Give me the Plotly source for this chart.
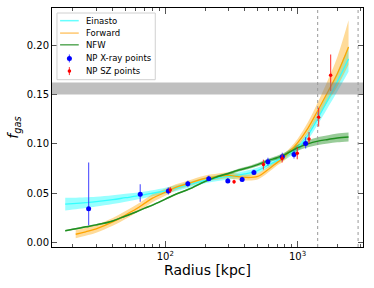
import plotly.graph_objects as go

# ---------------- data ----------------
radius_curve = [17.5, 20, 25, 30, 40, 50, 60, 70, 80, 100, 120, 150, 200, 250, 300,
                350, 400, 500, 600, 700, 800, 1000, 1200, 1400, 1700, 2000, 2430]
einasto = [0.039, 0.0395, 0.0405, 0.0415, 0.0435, 0.0455, 0.047, 0.0485, 0.050, 0.0525,
           0.055, 0.0585, 0.063, 0.0655, 0.067, 0.068, 0.0695, 0.073, 0.0785, 0.083,
           0.087, 0.096, 0.109, 0.124, 0.145, 0.163, 0.186]
einasto_err = [0.0065, 0.006, 0.0055, 0.005, 0.0045, 0.004, 0.0035, 0.0033, 0.003, 0.003,
               0.003, 0.003, 0.003, 0.003, 0.003, 0.003, 0.003, 0.003, 0.003, 0.003,
               0.003, 0.0035, 0.0045, 0.006, 0.008, 0.010, 0.013]
nfw = [0.012, 0.0135, 0.016, 0.018, 0.022, 0.027, 0.031, 0.035, 0.038, 0.044,
       0.049, 0.054, 0.062, 0.067, 0.070, 0.073, 0.075, 0.079, 0.083, 0.086,
       0.089, 0.096, 0.100, 0.1025, 0.1045, 0.106, 0.107]
nfw_err = [0.0008, 0.0008, 0.0008, 0.0008, 0.0008, 0.0008, 0.0008, 0.0008, 0.0008, 0.0008,
           0.0008, 0.0008, 0.001, 0.0012, 0.0013, 0.0014, 0.0015, 0.0017, 0.0018, 0.002,
           0.0022, 0.003, 0.0035, 0.004, 0.0042, 0.0044, 0.0045]

radius_forward = [21, 25, 30, 40, 50, 60, 70, 80, 100, 120, 150, 200, 250, 300,
                  350, 400, 500, 600, 700, 800, 1000, 1200, 1400, 1700, 2000, 2430]
forward = [0.0085, 0.011, 0.014, 0.021, 0.028, 0.034, 0.040, 0.045, 0.051, 0.056,
           0.060, 0.065, 0.067, 0.068, 0.067, 0.066, 0.067, 0.074, 0.081, 0.087,
           0.101, 0.116, 0.132, 0.153, 0.171, 0.198]
forward_err_up = [0.004, 0.004, 0.004, 0.004, 0.004, 0.004, 0.004, 0.004, 0.0035, 0.003,
                  0.003, 0.003, 0.003, 0.003, 0.003, 0.003, 0.003, 0.003, 0.003, 0.0035,
                  0.004, 0.006, 0.008, 0.012, 0.017, 0.027]
forward_err_dn = [0.004, 0.004, 0.004, 0.004, 0.004, 0.004, 0.004, 0.004, 0.0035, 0.003,
                  0.003, 0.003, 0.003, 0.003, 0.003, 0.003, 0.003, 0.003, 0.003, 0.0035,
                  0.004, 0.005, 0.007, 0.010, 0.013, 0.018]

xray_r = [26.3, 64.6, 105.4, 148, 213, 297, 381, 468, 597, 767, 940, 1151]
xray_f = [0.0344, 0.049, 0.0523, 0.0597, 0.0648, 0.0624, 0.0638, 0.0709, 0.082, 0.087, 0.0893, 0.1003]
xray_up = [0.0466, 0.010, 0.0035, 0.003, 0.003, 0.003, 0.003, 0.003, 0.004, 0.004, 0.004, 0.0065]
xray_dn = [0.0168, 0.0075, 0.0035, 0.003, 0.002, 0.002, 0.002, 0.002, 0.004, 0.004, 0.004, 0.005]

sz_r = [109, 331, 552, 765, 995, 1221, 1443, 1779]
sz_f = [0.0533, 0.0617, 0.0790, 0.0852, 0.0905, 0.105, 0.127, 0.1694]
sz_up = [0.003, 0.002, 0.005, 0.004, 0.006, 0.007, 0.0095, 0.021]
sz_dn = [0.003, 0.002, 0.005, 0.004, 0.006, 0.0045, 0.0095, 0.016]

fgas_band = [0.150, 0.162]
vlines = [1420, 2870]

legend_labels = ["Einasto", "Forward", "NFW", "NP X-ray points", "NP SZ points"]

x_tick_vals = [100, 1000]
x_tick_text = ["10<sup>2</sup>", "10<sup>3</sup>"]
x_minor_vals = [20, 30, 40, 50, 60, 70, 80, 90, 200, 300, 400, 500, 600, 700, 800, 900, 2000, 3000]
y_tick_vals = [0.00, 0.05, 0.10, 0.15, 0.20]

# ---------------- figure ----------------
fig = go.Figure()

def band(xs, lo, hi, color):
    fig.add_trace(go.Scatter(x=xs, y=hi, mode="lines", line=dict(width=0, shape="spline"),
                             showlegend=False, hoverinfo="skip"))
    fig.add_trace(go.Scatter(x=xs, y=lo, mode="lines", line=dict(width=0, shape="spline"),
                             fill="tonexty", fillcolor=color, showlegend=False, hoverinfo="skip"))

band(radius_curve, [v - e for v, e in zip(einasto, einasto_err)],
     [v + e for v, e in zip(einasto, einasto_err)], "rgba(0,255,255,0.4)")
band(radius_forward, [v - e for v, e in zip(forward, forward_err_dn)],
     [v + e for v, e in zip(forward, forward_err_up)], "rgba(255,165,0,0.4)")
band(radius_curve, [v - e for v, e in zip(nfw, nfw_err)],
     [v + e for v, e in zip(nfw, nfw_err)], "rgba(0,128,0,0.4)")

fig.add_trace(go.Scatter(x=radius_curve, y=einasto, mode="lines", name=legend_labels[0],
                         line=dict(color="#33ffff", width=1.3, shape="spline"), showlegend=False))
fig.add_trace(go.Scatter(x=radius_forward, y=forward, mode="lines", name=legend_labels[1],
                         line=dict(color="#ffa500", width=1.3, shape="spline"), showlegend=False))
fig.add_trace(go.Scatter(x=radius_curve, y=nfw, mode="lines", name=legend_labels[2],
                         line=dict(color="#1f8f1f", width=1.5, shape="spline"), showlegend=False))

fig.add_trace(go.Scatter(x=xray_r, y=xray_f, mode="markers", name=legend_labels[3],
                         marker=dict(color="#0000ff", size=5), showlegend=False,
                         error_y=dict(type="data", array=xray_up, arrayminus=xray_dn,
                                      color="rgba(40,40,255,0.75)", thickness=1.2, width=0)))
fig.add_trace(go.Scatter(x=sz_r, y=sz_f, mode="markers", name=legend_labels[4],
                         marker=dict(color="#ff0000", size=3.5), showlegend=False,
                         error_y=dict(type="data", array=sz_up, arrayminus=sz_dn,
                                      color="rgba(255,30,30,0.8)", thickness=1.2, width=0)))

shapes = [dict(type="rect", xref="paper", yref="y", x0=0, x1=1,
               y0=fgas_band[0], y1=fgas_band[1], fillcolor="rgba(128,128,128,0.5)",
               line=dict(width=0), layer="above")]
for v in vlines:
    shapes.append(dict(type="line", xref="x", yref="paper", x0=v, x1=v, y0=0, y1=1,
                       line=dict(color="#999999", width=1, dash="dot")))

# ---- hand-drawn legend (matplotlib-like compact box) ----
leg_rows = [0.947, 0.895, 0.846, 0.789, 0.736]
leg_line_colors = ["#66ffff", "#ffc870", "#5aa95a"]
shapes.append(dict(type="rect", xref="paper", yref="paper", x0=0.016, x1=0.332,
                   y0=0.70, y1=0.979, fillcolor="rgba(255,255,255,0.85)",
                   line=dict(color="#d0d0d0", width=1), layer="above"))
for i in range(3):
    shapes.append(dict(type="line", xref="paper", yref="paper", x0=0.026, x1=0.086,
                       y0=leg_rows[i], y1=leg_rows[i],
                       line=dict(color=leg_line_colors[i], width=1.5), layer="above"))
for i, (mc, ec, ms) in enumerate([("#0000ff", "rgba(40,40,255,0.75)", 2.5),
                                  ("#ff0000", "rgba(255,30,30,0.8)", 1.8)]):
    yr = leg_rows[3 + i]
    shapes.append(dict(type="line", xref="paper", yref="paper", x0=0.056, x1=0.056,
                       ysizemode="pixel", yanchor=yr, y0=-4, y1=4,
                       line=dict(color=ec, width=1.2), layer="above"))
    shapes.append(dict(type="circle", xref="paper", yref="paper",
                       xsizemode="pixel", ysizemode="pixel", xanchor=0.056, yanchor=yr,
                       x0=-ms, x1=ms, y0=-ms, y1=ms, fillcolor=mc,
                       line=dict(width=0), layer="above"))

annotations = []
for lbl, yr in zip(legend_labels, leg_rows):
    annotations.append(dict(text=lbl, xref="paper", yref="paper", x=0.103, y=yr,
                            xanchor="left", yanchor="middle", showarrow=False,
                            font=dict(size=8.5, family="DejaVu Sans", color="black")))

fig.update_layout(
    width=374, height=288,
    margin=dict(l=52, r=11, t=8, b=41),
    plot_bgcolor="white", paper_bgcolor="white",
    font=dict(family="DejaVu Sans", color="black", size=10),
    shapes=shapes, annotations=annotations,
    showlegend=False,
    xaxis=dict(type="log", range=[1.143, 3.495], showgrid=False, zeroline=False,
               automargin=False,
               showline=True, linecolor="black", linewidth=1, mirror="allticks",
               ticks="inside", ticklen=6, tickcolor="#555",
               tickvals=x_tick_vals, ticktext=x_tick_text,
               minor=dict(tickvals=x_minor_vals, ticks="inside", ticklen=3, tickcolor="#555"),
               title=dict(text="Radius [kpc]", font=dict(size=14), standoff=0),
               tickfont=dict(size=10)),
    yaxis=dict(range=[-0.0044, 0.2375], showgrid=False, zeroline=False,
               automargin=False,
               showline=True, linecolor="black", linewidth=1, mirror="allticks",
               ticks="inside", ticklen=5, tickcolor="#555",
               tickvals=y_tick_vals, tickformat=".2f",
               title=dict(text="<i>f</i><sub><i>gas</i></sub>", font=dict(size=14), standoff=4),
               tickfont=dict(size=10)),
)

fig.write_html("out.html", config={"displayModeBar": False},
               post_script="document.body.style.margin='0px';document.body.style.overflow='hidden';")
